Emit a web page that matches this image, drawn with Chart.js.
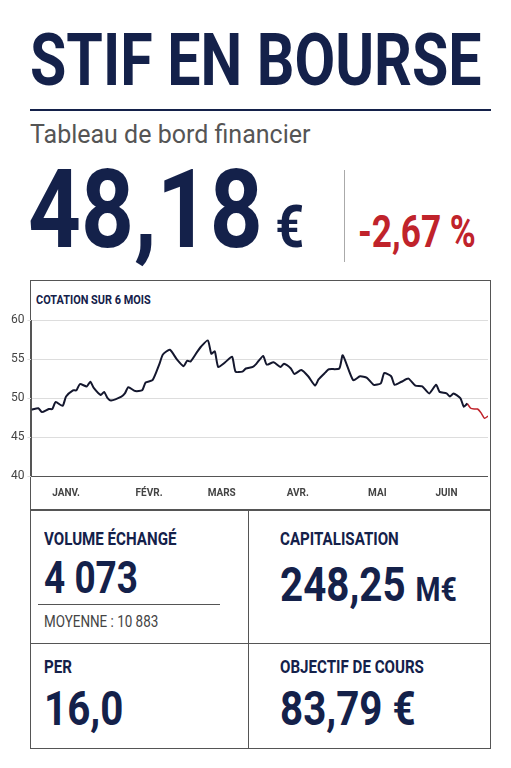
<!DOCTYPE html>
<html><head><meta charset="utf-8">
<script src="https://cdn.jsdelivr.net/npm/chart.js@4"></script>
<style>
body{margin:0;background:#fff;width:511px;height:768px;position:relative;overflow:hidden;font-family:Roboto,sans-serif;color:#14214a}
.a{position:absolute;white-space:nowrap}
.cn{transform:scaleX(0.84);transform-origin:0 0}
.box{position:absolute;border:1px solid #555}
.lbl{font-size:18px;font-weight:bold}
.big{font-weight:bold}
</style></head><body>
<div class="a big cn" style="left:30px;top:16px;font-size:72px;line-height:90px;transform:scaleX(0.82)">STIF EN BOURSE</div>
<div class="a" style="left:30px;top:109px;width:461px;height:2px;background:#14214a"></div>
<div class="a" style="left:30px;top:120px;font-size:25px;color:#555">Tableau de bord financier</div>
<div class="a big cn" style="left:28px;top:150px;font-size:110px;line-height:120px">48,18<span style="font-size:60px"> €</span></div>
<div class="a" style="left:344px;top:170px;width:1px;height:92px;background:#aaa"></div>
<div class="a big cn" style="left:358px;top:206px;font-size:44px;color:#c0232b;transform:scaleX(0.8)">-2,67 %</div>
<div class="box" style="left:30px;top:280px;width:459px;height:229px"></div>
<div class="a lbl cn" style="left:36px;top:292px;font-size:13px">COTATION SUR 6 MOIS</div>
<div class="a" style="left:8px;top:310px;width:480px;height:192px"><canvas id="c"></canvas></div>
<div class="box" style="left:30px;top:509px;width:459px;height:238px"></div>
<div class="a" style="left:248px;top:509px;width:1px;height:239px;background:#555"></div>
<div class="a" style="left:30px;top:643px;width:460px;height:1px;background:#555"></div>
<div class="a lbl cn" style="left:44px;top:528px">VOLUME ÉCHANGÉ</div>
<div class="a big cn" style="left:44px;top:552px;font-size:44px">4 073</div>
<div class="a" style="left:38px;top:604px;width:182px;height:1px;background:#555"></div>
<div class="a cn" style="left:44px;top:612px;font-size:16px;color:#444">MOYENNE : 10 883</div>
<div class="a lbl cn" style="left:280px;top:528px">CAPITALISATION</div>
<div class="a big cn" style="left:280px;top:556px;font-size:48px">248,25 <span style="font-size:34px">M€</span></div>
<div class="a lbl cn" style="left:44px;top:656px">PER</div>
<div class="a big cn" style="left:44px;top:680px;font-size:48px">16,0</div>
<div class="a lbl cn" style="left:280px;top:656px">OBJECTIF DE COURS</div>
<div class="a big cn" style="left:280px;top:680px;font-size:48px">83,79 €</div>
<script>
const days =   [0,2,3,5,6,7,9,10,12,13, 14,16,17,18,20,21,22,23,26,27, 28,30,32,33,35,37,38,40,42,44, 45,46,48,49,51,52,53,54,56,58, 59,61,62,64,65,67,68,70,72,73, 75,76,78,80,82,83,85,86,89,90, 93,95,97,99,101,102,104,105,107,109, 111,113,115,117,118,120,121,122,124,125,126];
const prices = [48.5,48.7,48.2,48.6,48.6,49.5,49.0,50.2,51.0,51.0, 51.8,51.5,52.1,51.3,50.4,50.8,50.0,49.7,50.2,50.6, 51.4,50.9,51.0,52.0,52.3,54.4,55.6,56.2,55.0,54.1, 54.8,54.7,56.0,56.6,57.4,55.7,56.0,54.0,54.6,55.3, 53.4,53.4,53.8,54.0,54.4,55.4,54.3,54.6,54.0,54.4, 53.8,53.1,53.6,52.8,51.6,52.4,53.3,53.7,53.8,55.5, 52.3,52.8,52.6,51.7,51.9,53.2,52.8,51.7,52.1,52.5, 51.6,51.5,50.6,51.7,50.8,50.6,50.2,50.6,50.0,48.9,49.3];
const redDays = [126,127,128,129,130,131,132];
const redPrices = [49.3,48.7,48.6,48.6,48.1,47.4,47.7];
const monthPos = [10,34,55,77,100,120];
const monthNames = ['JANV.','FÉVR.','MARS','AVR.','MAI','JUIN'];
const yTicks = [40,45,50,55,60];

new Chart(document.getElementById('c'), {
  type: 'line',
  data: { datasets: [
    { data: days.map((d, i) => ({ x: d, y: prices[i] })), borderColor: '#14172e', borderWidth: 2, pointRadius: 0, tension: 0.2 },
    { data: redDays.map((d, i) => ({ x: d, y: redPrices[i] })), borderColor: '#c0232b', borderWidth: 1.5, pointRadius: 0, tension: 0.2 }
  ] },
  options: {
    responsive: true, maintainAspectRatio: false, animation: false,
    plugins: { legend: { display: false }, tooltip: { enabled: false } },
    scales: {
      x: { type: 'linear', min: 0, max: 132,
        afterBuildTicks: (a) => { a.ticks = monthPos.map((v) => ({ value: v })); },
        ticks: { autoSkip: false, maxRotation: 0, color: '#444', font: { size: 10, family: 'Roboto', weight: 'bold' }, callback: (v) => monthNames[monthPos.indexOf(v)] },
        grid: { display: false }, border: { color: '#555' } },
      y: { min: 40, max: 60,
        afterBuildTicks: (a) => { a.ticks = yTicks.map((v) => ({ value: v })); },
        ticks: { color: '#444', font: { size: 12, family: 'Roboto' } },
        grid: { color: '#ddd', tickLength: 4 }, border: { color: '#555' } }
    }
  }
});
</script>
</body></html>
